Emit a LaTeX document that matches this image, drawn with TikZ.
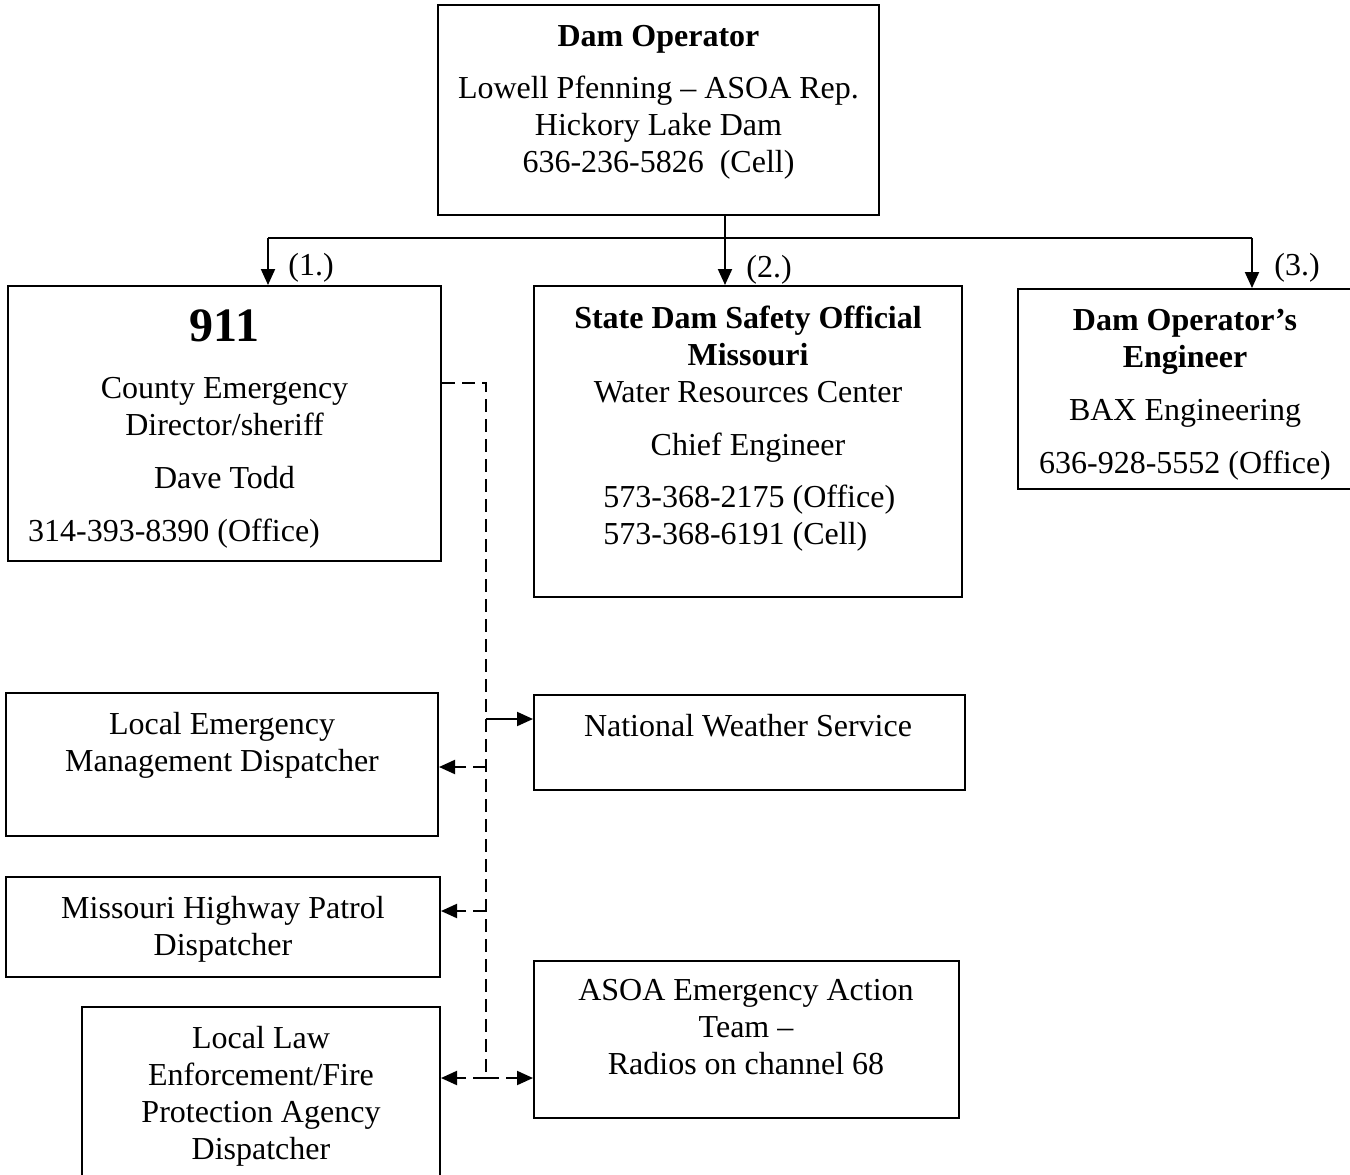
\documentclass[tikz,border=0pt]{standalone}
\usepackage{fontspec}
\setmainfont{Liberation Serif}
\usetikzlibrary{arrows.meta,positioning,calc}

\begin{document}
\begin{tikzpicture}[
        x=0.5pt, y=-0.5pt,
        box/.style={rectangle, draw, line width=1pt, inner sep=0pt},
        txt/.style={align=center, inner sep=0pt, font=\fontsize{16}{18.5}\selectfont},
        line/.style={line width=1pt, -{Triangle[length=8pt,width=7pt]}},
        dashline/.style={line width=1pt, dash pattern=on 6.5pt off 3.5pt}
    ]
        \useasboundingbox[fill=white] (0,0) rectangle (1350,1174);

        % boxes
        \node[box, minimum width=220.5pt, minimum height=105pt] (op) at (658.5,110) {};
        \node[box, minimum width=216.5pt, minimum height=137.5pt] (nine) at (224.5,423.5) {};
        \node[box, minimum width=214pt, minimum height=155.5pt] (state) at (748,441.5) {};
        \node[box, minimum width=167pt, minimum height=100pt] (eng) at (1185,389) {};
        \node[box, minimum width=216pt, minimum height=71.5pt] (lemd) at (222,764.5) {};
        \node[box, minimum width=215.5pt, minimum height=47.5pt] (nws) at (749.5,742.5) {};
        \node[box, minimum width=217pt, minimum height=50pt] (mhp) at (223,927) {};
        \node[box, minimum width=212.5pt, minimum height=78.5pt] (asoa) at (746.5,1039.5) {};
        \node[box, minimum width=179pt, minimum height=96.5pt] (law) at (261,1103.5) {};

        % texts
        \node[txt, anchor=north] (opText) at (658.5,25) {\textbf{Dam Operator}\\[7.5pt] Lowell Pfenning – ASOA Rep.\\ Hickory Lake Dam\\ 636-236-5826\ \ (Cell)};
        \node[txt, anchor=north, font=\fontsize{24}{28}\selectfont\bfseries] (nineTitle) at (224.5,309) {911};
        \node[txt, anchor=north] (nineText) at (224.5,377) {County Emergency\\ Director/sheriff\\[8pt] Dave Todd};
        \node[txt, anchor=north] (ninePhone) at (174,519) {314-393-8390 (Office)};
        \node[txt, anchor=north] (stateText) at (748,306) {\textbf{State Dam Safety Official}\\ \textbf{Missouri}\\ Water Resources Center\\[8pt] Chief Engineer};
        \node[txt, anchor=north west, align=left] (statePhone) at (603,485) {573-368-2175 (Office)\\ 573-368-6191 (Cell)};
        \node[txt, anchor=north] (engText) at (1185,309) {\textbf{Dam Operator’s}\\ \textbf{Engineer}\\[8pt] BAX Engineering\\[8pt] 636-928-5552 (Office)};
        \node[txt, anchor=north] (lemdText) at (222,712) {Local Emergency\\ Management Dispatcher};
        \node[txt, anchor=north] (nwsText) at (748,714) {National Weather Service};
        \node[txt, anchor=north] (mhpText) at (223,896) {Missouri Highway Patrol\\ Dispatcher};
        \node[txt, anchor=north] (asoaText) at (746,979) {ASOA Emergency Action\\ Team –\\ Radios on channel 68};
        \node[txt, anchor=north] (lawText) at (261,1026) {Local Law\\ Enforcement/Fire\\ Protection Agency\\ Dispatcher};

        % call order
        \coordinate (busL) at (268,238);
        \coordinate (stem) at (725,238);
        \coordinate (busR) at (1252,238);
        \draw[line width=1pt] (stem |- op.south) -- (stem);
        \draw[line width=1pt] (busL) -- (busR);
        \draw[line] (busL) -- (busL |- nine.north);
        \draw[line] (stem) -- (stem |- state.north);
        \draw[line] (busR) -- (busR |- eng.north);
        \node[txt] (first) at (311,268) {(1.)};
        \node[txt] (second) at (769,270) {(2.)};
        \node[txt] (third) at (1297,268) {(3.)};

        % 911 notifications
        \coordinate (trunk) at (486,383);
        \coordinate (tA) at (486,719);
        \coordinate (tB) at (486,767);
        \coordinate (tC) at (486,911);
        \coordinate (tD) at (486,1078);
        \draw[dashline] (nine.east |- trunk) -- (trunk) -- (tD);
        \draw[line] (tA) -- (tA -| nws.west);
        \draw[line, dashline] (tB) -- (tB -| lemd.east);
        \draw[line, dashline] (tC) -- (tC -| mhp.east);
        \draw[line, dashline] (tD) -- (tD -| law.east);
        \draw[line, dashline] (tD) -- (tD -| asoa.west);
    \end{tikzpicture}
\end{document}
